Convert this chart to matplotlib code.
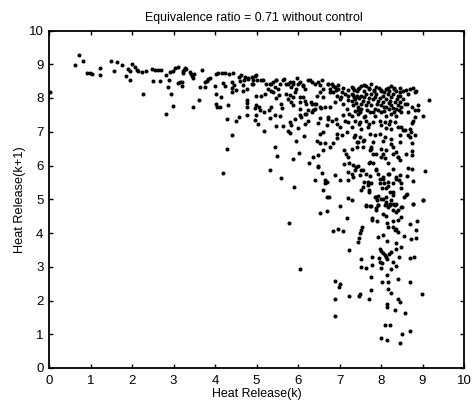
import numpy as np
import matplotlib
matplotlib.use('Agg')
import matplotlib.pyplot as plt

# values as (k, k+1), grouped by area of the plot
left_band = [(0.62,8.99),(0.72,9.26),(0.82,9.11),(0.92,8.75),(0.99,8.74),(1.04,8.70),(1.24,8.88),(1.24,8.67),
    (1.49,9.09),(1.65,9.08),(1.57,8.79),(1.77,8.98),(1.85,8.65),(1.96,8.54),(1.91,8.87),(1.95,8.80),(2.0,9.02),
    (2.07,8.92),(2.11,8.84),(2.15,8.80),(2.23,8.77),(2.34,8.80),(2.26,8.11),(0.02,8.17),
    (2.47,8.85),(2.55,8.83),(2.63,8.82),(2.70,8.84),(2.51,8.50),(2.67,8.49),(2.81,8.69),(2.92,8.77),(2.98,8.80),
    (3.04,8.89),(3.12,8.92),(2.90,8.52),(2.86,8.34),(2.93,8.13),(2.98,7.77),(2.82,7.54),(3.16,8.46),(3.12,8.43),
    (3.21,8.47),(3.20,8.37),(3.24,8.80),(3.28,8.90),(3.22,8.75),(3.26,8.84),(3.30,8.86),(3.40,8.76),(3.44,8.66),
    (3.50,8.72),(3.48,8.60),(3.42,8.70),(3.69,8.82),(3.64,8.34),(3.76,8.34),(3.62,7.95),(3.48,7.73),(3.88,8.60),
    (3.84,8.55),(3.76,8.46),(3.80,8.50),(4.0,8.37),(4.02,8.72),(4.08,8.74),(4.17,8.73),(4.25,8.73),(4.34,8.71)]
mid_left = [(4.02,8.13),(4.14,8.04),(4.02,7.82),(4.05,7.72),(4.12,7.72),(4.31,7.78),(4.29,7.39),(4.42,6.91),(4.50,7.31),
    (4.57,7.44),(4.76,7.51),(4.76,7.72),(4.76,7.85),(4.78,7.93),(4.19,8.45),(4.24,8.37),(4.40,8.46),(4.40,8.30),(4.42,8.17),
    (4.46,8.38),(4.50,8.25),(4.60,8.50),(4.70,8.52),(4.80,8.55),(4.43,8.73),(4.62,8.67),(4.72,8.62),(4.68,8.22),(4.76,8.28),
    (4.30,6.48),(4.20,5.79)]
top_band = [(4.88,8.61),(4.96,8.66),(5.0,8.52),(4.92,8.42),(4.88,8.42),(5.15,8.52),(4.98,8.07),(4.98,7.80),(4.96,7.70),
    (5.06,7.73),(5.08,7.63),(5.18,7.60),(4.98,7.51),(4.96,7.35),(5.04,7.23),(5.18,7.01),(5.12,8.07),(5.2,8.12),(5.28,8.27),
    (5.32,8.42),(5.40,8.47),(5.48,8.52),(5.36,8.22),(5.44,8.32),(5.56,8.42),(5.64,8.52),(5.52,8.27),(5.72,8.42),(5.80,8.47),
    (5.88,8.42),(5.98,8.59),(6.04,8.47),(6.12,8.37),(6.25,8.52),(6.33,8.47),(6.49,8.47),(6.57,8.52),(6.16,8.27),(5.96,8.27),
    (5.84,8.32),(6.45,8.07),(6.53,8.17),(6.61,8.27),(6.73,8.42),(6.81,8.42),(6.89,8.32),(6.97,8.27),(7.05,8.17),(7.13,8.12),
    (7.21,8.07),(6.77,8.27),(6.85,8.17),(6.93,8.07),(5.46,8.0),(5.34,7.73),(5.30,7.63),(5.60,7.83),(5.62,7.70),(5.32,7.41),
    (5.44,7.51),(5.56,7.48),(5.72,8.12),(5.76,7.97),(5.87,8.02),(5.84,7.87),(5.88,7.80),(6.04,8.02),(6.06,7.89),(6.16,7.92),
    (6.2,7.83),(6.33,7.83),(6.41,7.83),(6.04,7.68),(6.25,7.63),(6.41,7.68),(6.53,7.73),(6.65,7.73),(6.77,7.73),(6.89,7.88),
    (7.01,7.97),(7.09,7.83),(7.17,7.68),(6.33,7.58),(6.2,7.53),(6.08,7.43),(5.92,7.38),(6.53,7.40),(6.49,7.26),(6.25,7.33),
    (6.17,7.23),(6.0,7.11),(5.80,7.28),(5.84,7.20),(5.64,7.16),(5.48,7.17),(5.76,7.01),(5.80,6.96),(6.14,6.87),(5.94,6.74),
    (6.69,7.19),(6.81,7.33),(6.93,7.23),(7.01,7.14),(7.13,7.33),(7.21,7.28),(6.73,7.38),(6.53,6.94),(6.61,6.99),(6.45,6.74),
    (6.53,6.67),(6.65,6.67),(6.85,6.67),(6.94,6.94),(7.05,6.89),(7.17,6.99),(6.93,6.81)]
top_edge = [(4.59,8.62),(4.79,8.60),(4.98,8.67),(4.91,8.52),(4.67,8.38),(5.11,8.52),(5.23,8.42),(5.35,8.42),(5.47,8.52),
    (5.67,8.55),(5.75,8.42),(5.88,8.47),(6.0,8.42),(6.12,8.38),(6.28,8.52),(6.40,8.42),(6.53,8.38),(6.72,8.41),(6.84,8.35),
    (6.96,8.38),(7.08,8.31),(7.20,8.23),(7.32,8.31),(7.44,8.28),(7.60,8.38),(7.72,8.31),(7.84,8.23),(8.0,8.25),(8.16,8.31),
    (8.32,8.31),(8.45,8.18),(8.61,8.25),(8.77,8.31),(8.85,8.21),(5.39,8.18),(5.55,8.08),(5.80,8.08),(5.92,8.18),(6.12,8.03),
    (6.32,7.88),(6.44,7.83),(6.60,8.03),(6.76,8.18),(6.92,8.23),(7.04,8.03),(7.20,7.93),(7.32,8.08),(6.16,7.54),(6.04,7.49),
    (6.36,7.64),(6.56,7.69),(6.72,7.44),(6.92,7.39),(7.08,7.49),(7.24,7.54),(7.44,7.64)]
dense_top = [(7.29,8.32),(7.41,8.22),(7.53,8.37),(7.65,8.37),(7.77,8.42),(7.89,8.32),(8.01,8.22),(8.13,8.27),(8.25,8.37),
    (8.37,8.22),(8.53,8.22),(8.70,8.27),(8.82,8.17),(8.66,8.12),(9.15,7.93),(9.0,7.48),(8.90,7.80),(8.82,7.63),(8.90,7.63),
    (8.82,7.43),(8.78,7.33),(8.74,7.26),(8.66,7.58),(8.74,7.73),(8.62,7.83),(8.53,7.97),(8.45,8.07),(7.29,8.12),(7.41,8.07),
    (7.53,8.07),(7.65,8.12),(7.77,8.12),(7.89,8.12),(8.05,8.07),(8.17,8.12),(8.29,8.12),(8.41,8.07),(7.29,7.92),(7.37,7.97),
    (7.57,7.92),(7.69,7.88),(7.81,7.97),(7.93,7.92),(8.05,7.88),(8.21,7.92),(8.33,7.88),(8.45,7.88),(8.57,7.83),(7.33,7.78),
    (7.45,7.73),(7.53,7.68),(7.77,7.78),(7.85,7.68),(8.01,7.78),(8.13,7.73),(8.25,7.78),(8.37,7.68),(8.49,7.73),(7.29,7.48),
    (7.45,7.53),(7.61,7.48),(7.73,7.58),(7.85,7.48),(8.01,7.58),(8.13,7.48),(8.25,7.53),(8.37,7.48),(8.49,7.58),(7.37,7.33),
    (7.49,7.28),(7.65,7.33),(7.81,7.28),(7.97,7.33),(8.09,7.28),(8.21,7.33),(8.33,7.28),(7.29,7.14),(7.53,7.09),(7.69,7.14),
    (8.01,7.19),(8.13,7.11),(8.25,7.09),(8.49,7.14),(8.57,7.04),(8.70,7.09),(7.37,6.89),(7.49,6.84),(7.73,6.94),(7.85,6.89),
    (7.97,6.94),(8.09,6.84),(8.25,6.79),(8.45,6.89),(8.70,6.84),(8.82,6.91),(7.41,6.69),(7.57,6.74),(7.81,6.69),(8.05,6.74),
    (8.25,6.64),(8.45,6.69),(8.74,6.67),(7.35,8.25),(7.47,8.30),(7.60,8.22),(7.72,8.28),(7.84,8.20),(7.95,8.30),(8.08,8.18),
    (8.20,8.20),(8.32,8.28),(8.45,8.30),(7.35,8.02),(7.47,8.00),(7.60,8.02),(7.72,8.00),(7.85,8.04),(7.98,8.00),(8.12,7.98),
    (8.25,8.02),(8.38,7.98),(7.40,7.85),(7.52,7.82),(7.63,7.80),(7.90,7.82),(8.07,7.72),(8.20,7.84),(8.30,7.70),(8.42,7.80),
    (7.38,7.62),(7.50,7.60),(7.66,7.64),(7.80,7.60),(7.93,7.65),(8.07,7.62),(8.20,7.66),(8.32,7.60),(8.43,7.64),
    (7.60,7.44),(7.72,7.24),(7.48,7.24),(7.36,6.85),(7.44,6.70),(7.60,6.75),(8.53,7.05),(8.65,6.90),(8.73,7.0),(8.40,7.14),(8.20,7.24)]
mid_right = [(7.29,6.50),(7.41,6.55),(7.57,6.55),(7.73,6.45),(7.81,6.35),(7.77,6.50),(8.01,6.50),(8.05,6.35),(8.09,6.21),
    (8.17,6.06),(8.29,6.55),(8.36,6.40),(8.41,6.25),(8.45,6.16),(8.60,6.35),(8.74,6.42),(8.74,6.32),(7.73,6.11),(7.81,6.06),
    (7.88,5.91),(7.93,5.76),(7.97,5.61),(7.33,6.01),(7.45,5.99),(7.57,5.86),(7.64,5.76),(7.37,5.86),(7.29,5.76),(7.49,5.71),
    (8.28,5.91),(8.66,5.93),(8.74,5.91),(9.05,5.85),(8.78,5.55),(8.62,5.69),(8.45,5.71),(8.37,5.61),(8.05,5.61),(8.07,5.47),
    (8.17,5.40),(8.29,5.47),(8.17,5.76),(7.73,5.69),(7.69,5.52),(7.77,5.47),(7.57,5.37),(7.53,5.27),(7.72,5.22),(7.97,5.47),
    (8.03,5.32),(8.13,5.32),(8.21,5.22),(8.29,5.12),(8.49,5.47),(8.49,5.32),(8.62,5.17),(8.55,5.07),(9.02,4.99),(8.76,4.87),
    (7.85,5.07),(7.93,5.10),(7.91,4.97),(8.05,5.02),(8.13,4.92),(8.21,4.87),(8.33,4.83),(8.09,4.83),(8.25,4.97),(7.29,4.97),
    (7.64,4.83),(7.75,4.80),(7.93,4.83),(7.89,4.73),(8.49,4.78),(7.76,6.55),(7.88,6.35),(8.0,6.26),(8.12,6.45),(8.28,6.35),
    (8.40,6.26),(7.16,6.35),(7.24,6.06),(7.20,5.81),(7.40,5.96),(7.52,5.86),(7.32,5.66),(7.60,5.52),(7.72,6.06),(7.88,5.86),
    (8.04,5.66),(8.20,5.76),(8.36,5.66),(8.16,5.52),(8.44,5.57),(7.20,6.26),(7.12,6.45),(7.88,5.07),(8.0,5.02),(8.12,5.07),
    (8.28,5.22),(7.72,5.27),(7.68,5.42),(8.61,5.12)]
mid_low = [(5.45,6.55),(5.49,6.28),(5.33,5.86),(5.58,5.63),(5.90,5.35),(5.78,4.30),(5.87,6.20),(6.02,6.36),(6.27,6.07),
    (6.37,6.24),(6.49,6.30),(6.60,6.46),(6.49,6.0),(6.49,5.95),(6.59,5.79),(6.41,5.58),(6.88,5.71),(7.0,5.58),(6.65,5.57),
    (6.70,5.52),(6.66,5.48),(6.61,5.28),(6.70,5.07),(6.74,5.07),(6.71,4.65),(6.53,4.60),(7.01,4.79),(7.17,4.43),(7.21,5.05),
    (7.11,6.03),(7.21,5.56),(6.77,6.55),(6.05,2.93),(6.84,4.06),(6.97,4.12),(7.08,4.05)]
low_right = [(6.90,2.58),(7.02,2.50),(6.99,2.39),(6.89,2.03),(6.89,1.55),(7.23,2.13),(7.49,2.18),(7.46,2.13),(7.70,2.05),
    (7.75,2.32),(7.77,2.71),(7.51,2.99),(7.65,2.95),(7.79,3.05),(7.53,3.23),(7.78,3.28),(7.23,3.49),(7.45,3.72),(7.47,3.86),
    (7.53,4.08),(7.49,4.01),(7.55,4.18),(7.78,4.44),(7.78,4.38),(7.91,4.36),(7.65,4.79),(7.74,4.79),(7.93,3.88),(8.04,3.94),
    (8.14,3.76),(7.97,3.54),(8.01,3.47),(8.05,3.41),(8.09,3.34),(8.13,3.29),(8.19,3.37),(8.23,3.44),(8.14,3.24),(7.97,3.15),
    (8.03,3.10),(8.01,2.95),(7.94,3.27),(8.29,3.15),(8.35,3.03),(8.23,2.92),(8.14,2.75),(8.02,2.54),(8.18,2.55),(8.41,2.64),
    (8.69,2.54),(8.17,2.33),(8.25,2.23),(8.99,2.19),(8.41,2.03),(8.45,1.97),(8.14,1.89),(8.14,1.81),(8.33,1.71),(8.59,1.62),
    (8.10,1.28),(8.21,1.28),(7.99,0.90),(8.15,0.83),(8.46,0.73),(8.51,1.01),(8.70,1.09),(8.37,3.71),(8.37,3.54),(8.49,3.59),
    (8.56,3.91),(8.73,3.81),(8.85,3.84),(8.69,3.27),(8.79,3.29),(8.43,3.29),(8.85,4.08),(8.71,4.28),(8.87,4.36),(8.29,4.18),
    (8.37,4.13),(8.41,4.03),(8.33,4.08),(8.15,4.30),(8.17,4.18),(8.49,4.48),(8.41,4.38),(8.29,4.36),(8.05,4.56),(8.13,4.50),
    (8.29,4.67),(8.37,4.62),(8.41,4.67),(8.13,4.87),(8.21,4.82),(8.29,4.87),(8.37,4.85),(8.17,4.77),(7.93,4.82),(7.88,4.69),
    (8.51,4.77),(8.77,4.87),(9.01,4.97)]

ticks = list(range(0, 11))
title = 'Equivalence ratio = 0.71 without control'

plt.rcParams['font.family'] = ['Liberation Sans', 'DejaVu Sans']

points = np.array(left_band + mid_left + top_band + top_edge + dense_top + mid_right + mid_low + low_right)

W, H = 473, 401
fig = plt.figure(figsize=(W / 100, H / 100), dpi=100)
ax = fig.add_axes([49 / W, 1 - 368 / H, (464 - 49) / W, (368 - 30.5) / H])

ax.plot(points[:, 0], points[:, 1], linestyle='none', marker='o', color='black', markersize=2.9, markeredgewidth=0)

ax.set_xlim(0, 10)
ax.set_ylim(0, 10)
ax.set_xticks(ticks)
ax.set_yticks(ticks)
ax.tick_params(direction='in', top=True, right=True, length=3, width=1, labelsize=9.5, pad=4, colors='black')
ax.tick_params(axis='x', pad=5)
for s in ax.spines.values():
    s.set_linewidth(1.3)

ax.set_title(title, fontsize=8.9, pad=7, x=0.493)
ax.set_xlabel('Heat Release(k)', fontsize=8.9, labelpad=1)
ax.set_ylabel('Heat Release(k+1)', fontsize=9.2, labelpad=1.5)

fig.savefig('out.png', dpi=100)
